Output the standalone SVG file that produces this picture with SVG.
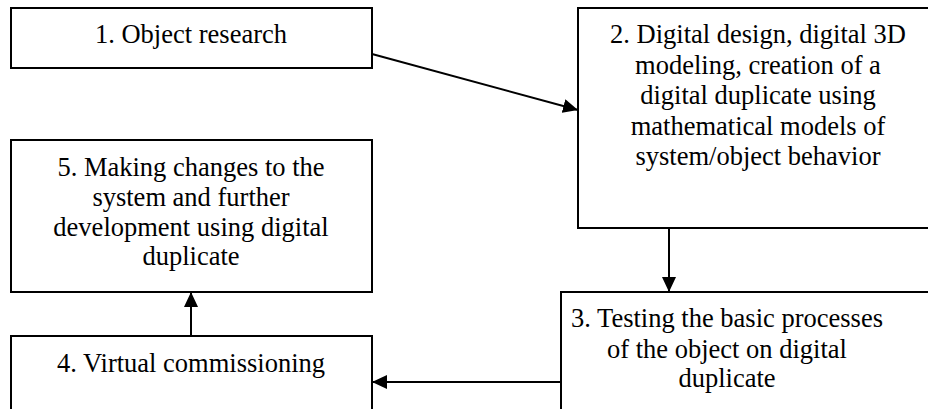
<svg xmlns="http://www.w3.org/2000/svg" width="928" height="409" viewBox="0 0 928 409">
<defs>
<style>
.box{fill:#fff;stroke:#000;stroke-width:2}
.c{stroke:#000;stroke-width:2;fill:none}
</style>
<marker id="ah" markerWidth="15" markerHeight="14" refX="15" refY="7" orient="auto" markerUnits="userSpaceOnUse">
<path d="M0,0 L15,7 L0,14 Z" fill="#000"/>
</marker>
</defs>
<rect width="928" height="409" fill="#fff"/>
<g font-family="Liberation Serif, Times New Roman, serif" font-size="26.5" fill="#000" text-anchor="middle">
<g id="node1">
<rect class="box" x="11" y="8" width="361" height="60"/>
<text x="191" y="43">1. Object research</text>
</g>
<g id="node2">
<rect class="box" x="578" y="8" width="362" height="220"/>
<text x="758" y="43">2. Digital design, digital 3D</text>
<text x="758" y="74">modeling, creation of a</text>
<text x="758" y="104">digital duplicate using</text>
<text x="758" y="135">mathematical models of</text>
<text x="758" y="165">system/object behavior</text>
</g>
<g id="node5">
<rect class="box" x="11" y="140" width="361" height="152"/>
<text x="191" y="176">5. Making changes to the</text>
<text x="191" y="206">system and further</text>
<text x="191" y="236">development using digital</text>
<text x="191" y="265">duplicate</text>
</g>
<g id="node4">
<rect class="box" x="11" y="336" width="361" height="90"/>
<text x="191" y="372">4. Virtual commissioning</text>
</g>
<g id="node3">
<rect class="box" x="561" y="292" width="380" height="130"/>
<text x="727" y="327">3. Testing the basic processes</text>
<text x="727" y="358">of the object on digital</text>
<text x="727" y="387">duplicate</text>
</g>
</g>
<g id="connectors">
<line class="c" x1="372" y1="54" x2="578" y2="110" marker-end="url(#ah)"/>
<line class="c" x1="669" y1="228" x2="669" y2="292" marker-end="url(#ah)"/>
<line class="c" x1="561" y1="382" x2="372" y2="382" marker-end="url(#ah)"/>
<line class="c" x1="191" y1="336" x2="191" y2="292" marker-end="url(#ah)"/>
</g>
</svg>
